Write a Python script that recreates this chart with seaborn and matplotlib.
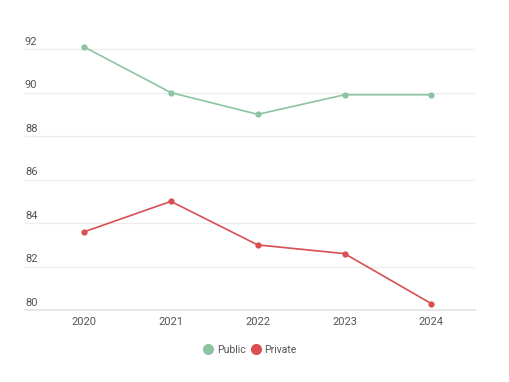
import pandas as pd
import matplotlib.pyplot as plt
import seaborn as sns
from matplotlib.lines import Line2D

sns.set_theme(style="white")
plt.rcParams['font.family'] = ['Roboto', 'DejaVu Sans']

# DATA
years = ["2020", "2021", "2022", "2023", "2024"]
public = [92.1, 90.0, 89.0, 89.9, 89.9]
private = [83.6, 85.0, 83.0, 82.6, 80.3]
y_ticks = [80, 82, 84, 86, 88, 90, 92]

colors = {"Public": "#8cc4a1", "Private": "#d94f51"}

df = pd.DataFrame({
    "year": years * 2,
    "value": public + private,
    "group": ["Public"] * len(years) + ["Private"] * len(years),
})

fig = plt.figure(figsize=(5.1, 3.82), dpi=100)
ax = fig.add_axes([0.049, 0.188, 0.882, 0.712])

sns.lineplot(data=df, x="year", y="value", hue="group", palette=colors,
             marker="o", markersize=4.5, markeredgewidth=0, linewidth=1.2,
             sort=False, legend=False, ax=ax)

ax.set_xlim(-0.68, 4.5)
ax.set_ylim(80, 92.5)
ax.set_yticks(y_ticks)
ax.set_yticklabels([])
ax.tick_params(axis="y", length=0)
ax.tick_params(axis="x", length=0, labelsize=8, labelcolor="#555555", pad=5)
ax.grid(axis="y", color="#ececec", linewidth=0.9)
ax.set_axisbelow(True)
for s in ["top", "right", "left"]:
    ax.spines[s].set_visible(False)
ax.spines["bottom"].set_color("#e3e3e3")
ax.set_xlabel("")
ax.set_ylabel("")

# y labels sit above the grid lines, left aligned
trans = ax.get_yaxis_transform()
for t in y_ticks:
    ax.text(0.0, t + 0.1, str(t), transform=trans, ha="left", va="bottom",
            fontsize=8, color="#555555")

handles = [Line2D([0], [0], marker="o", color="w", markerfacecolor=colors[k],
                  markersize=9, label=k) for k in ["Public", "Private"]]
fig.legend(handles=handles, loc="center", bbox_to_anchor=(0.49, 0.084), ncol=2,
           frameon=False, fontsize=7.5, handletextpad=0.3, columnspacing=0.5,
           handlelength=1.0, labelcolor="#555555")

fig.savefig("out.png", dpi=100)
